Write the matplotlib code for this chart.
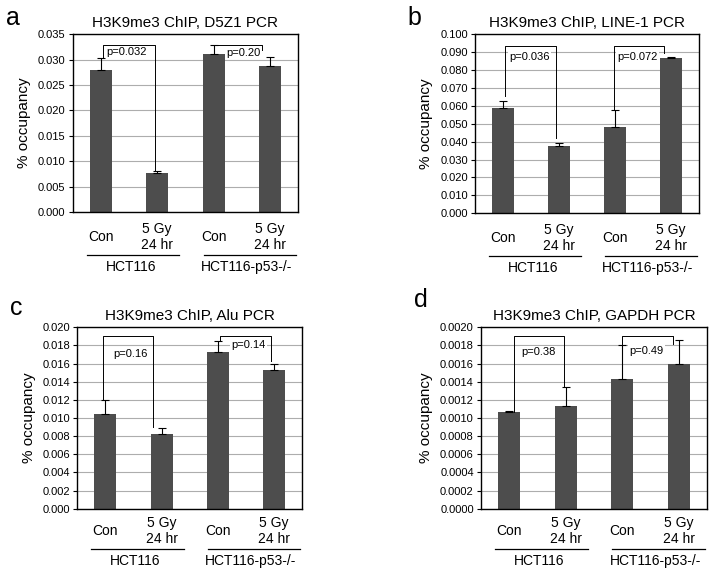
import matplotlib.pyplot as plt
import numpy as np
from matplotlib.ticker import FormatStrFormatter

plt.rcParams['font.family'] = ['Liberation Sans', 'DejaVu Sans']

W, H = 714, 574

# 数据
conditions = ['Con', '5 Gy\n24 hr', 'Con', '5 Gy\n24 hr']
cell_lines = ['HCT116', 'HCT116-p53-/-']

titles = ['H3K9me3 ChIP, D5Z1 PCR', 'H3K9me3 ChIP, LINE-1 PCR',
          'H3K9me3 ChIP, Alu PCR', 'H3K9me3 ChIP, GAPDH PCR']
letters = ['a', 'b', 'c', 'd']

d5z1_mean = [0.0279, 0.0077, 0.0312, 0.0287]
d5z1_err = [0.0025, 0.0004, 0.0016, 0.0018]
line1_mean = [0.0589, 0.0377, 0.0480, 0.0864]
line1_err = [0.0039, 0.0017, 0.0094, 0.0008]
alu_mean = [0.01041, 0.00824, 0.01732, 0.0153]
alu_err = [0.00155, 0.00063, 0.00118, 0.00063]
gapdh_mean = [0.00107, 0.00113, 0.00143, 0.00159]
gapdh_err = [0.00001, 0.00021, 0.00037, 0.00027]

p_values = [['p=0.032', 'p=0.20'], ['p=0.036', 'p=0.072'],
            ['p=0.16', 'p=0.14'], ['p=0.38', 'p=0.49']]

y_max = [0.035, 0.100, 0.020, 0.0020]
y_step = [0.005, 0.010, 0.002, 0.0002]
y_fmt = ['%.3f', '%.3f', '%.3f', '%.4f']

# 版面（像素）: left, top, right, bottom
boxes = [(72.5, 34.3, 298.5, 212), (475, 34, 699, 213.3),
         (77.3, 327.3, 302.3, 508.7), (480.7, 327.3, 707.3, 508.7)]
# 标注括号: (x左, x右, 顶, 左下端, 右下端), 文字位置 (x, y)
brackets = [
    [((0.035, 0.956, 0.0329, 0.0304, 0.0083), (0.09, 0.0316)),
     ((2.0, 2.855, 0.0328, 0.0328, 0.0319), (2.22, 0.0313))],
    [((0.04, 0.945, 0.0935, 0.0656, 0.0418), (0.11, 0.0873)),
     ((1.99, 2.88, 0.0935, 0.0576, 0.0892), (2.04, 0.0873))],
    [((-0.04, 0.85, 0.01905, 0.0120, 0.00898), (0.14, 0.01707)),
     ((2.03, 2.94, 0.01905, 0.0185, 0.01633), (2.24, 0.01806))],
    [((0.08, 0.97, 0.0019, 0.00107, 0.00135), (0.21, 0.001725)),
     ((2.0, 2.89, 0.0019, 0.0018, 0.00182), (2.125, 0.001743))],
]
drops = [(25, 43, 55), (25, 43, 55), (22, 40, 52), (22, 40, 52)]
letter_pos = [(6, 25), (407, 25), (10, 315), (414, 307)]

means = [d5z1_mean, line1_mean, alu_mean, gapdh_mean]
errs = [d5z1_err, line1_err, alu_err, gapdh_err]

fig = plt.figure(figsize=(W / 100, H / 100), dpi=100)

for k in range(4):
    l, t, r, b = boxes[k]
    ax = fig.add_axes([l / W, 1 - b / H, (r - l) / W, (b - t) / H])
    hpx = b - t
    x = np.arange(4)
    ax.bar(x, means[k], width=0.39, color='#4d4d4d', zorder=2)
    ax.errorbar(x, means[k], yerr=[np.zeros(4), errs[k]], fmt='none',
                ecolor='black', elinewidth=0.8, capsize=3, capthick=0.8, zorder=3)

    ax.set_xlim(-0.5, 3.5)
    ax.set_ylim(0, y_max[k])
    ax.set_yticks(np.arange(0, y_max[k] + y_step[k] / 2, y_step[k]))
    ax.yaxis.set_major_formatter(FormatStrFormatter(y_fmt[k]))
    ax.yaxis.grid(True, color='#adadad', lw=0.8)
    ax.set_axisbelow(True)
    ax.tick_params(axis='y', direction='out', length=3, width=0.8, labelsize=8, pad=2)
    ax.tick_params(axis='x', length=0, labelbottom=False)
    for s in ax.spines.values():
        s.set_linewidth(1.0)
        s.set_color('black')
    ax.set_ylabel('% occupancy', fontsize=11, labelpad=5)
    ax.set_title(titles[k], fontsize=11, pad=5)

    # 括号和p值
    for j, ((xl, xr, top, yl, yr), (xt, yt)) in enumerate(brackets[k]):
        ax.plot([xl, xl, xr, xr], [yl, top, top, yr], color='black', lw=0.7, zorder=5)
        ax.text(xt, yt, p_values[k][j], ha='left', va='center', fontsize=8, zorder=4,
                bbox=dict(facecolor='white', edgecolor='none', pad=1))

    # 分类标签
    d1, d2, d3 = drops[k]
    trans = ax.get_xaxis_transform()
    for i, lab in enumerate(conditions):
        ax.text(i, -d1 / hpx, lab, transform=trans, ha='center', va='center', fontsize=10)
    for (x0, x1), xc, name in zip([(-0.25, 1.39), (1.82, 3.46)], [0.53, 2.58], cell_lines):
        ax.plot([x0, x1], [-d2 / hpx] * 2, transform=trans, color='black', lw=0.9, clip_on=False)
        ax.text(xc, -d3 / hpx, name, transform=trans, ha='center', va='center', fontsize=10)

    lx, ly = letter_pos[k]
    fig.text(lx / W, 1 - ly / H, letters[k], fontsize=18, ha='left', va='baseline')

fig.savefig('out.png', dpi=100)
